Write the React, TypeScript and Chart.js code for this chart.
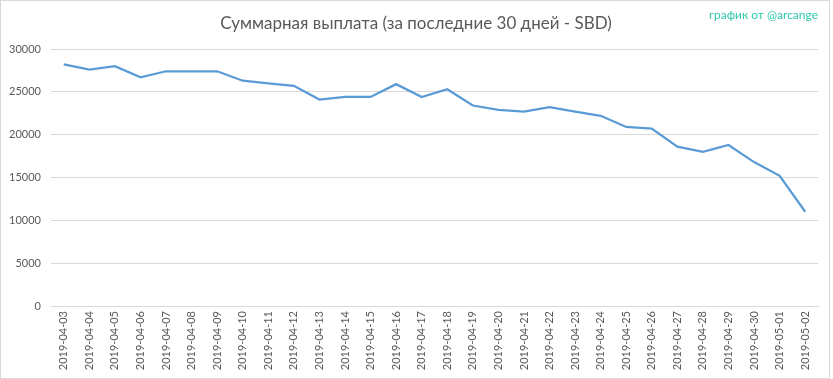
import React, { useEffect, useRef } from "react";
import { Chart, registerables } from "chart.js";

Chart.register(...registerables);

const TITLE = "Суммарная выплата (за последние 30 дней - SBD)";
const CREDIT = "график от @arcange";

const DATES = [
  "2019-04-03", "2019-04-04", "2019-04-05", "2019-04-06", "2019-04-07",
  "2019-04-08", "2019-04-09", "2019-04-10", "2019-04-11", "2019-04-12",
  "2019-04-13", "2019-04-14", "2019-04-15", "2019-04-16", "2019-04-17",
  "2019-04-18", "2019-04-19", "2019-04-20", "2019-04-21", "2019-04-22",
  "2019-04-23", "2019-04-24", "2019-04-25", "2019-04-26", "2019-04-27",
  "2019-04-28", "2019-04-29", "2019-04-30", "2019-05-01", "2019-05-02",
];

const PAYOUT = [
  28200, 27600, 28000, 26700, 27400,
  27400, 27400, 26300, 26000, 25700,
  24100, 24400, 24400, 25900, 24400,
  25300, 23400, 22900, 22700, 23200,
  22700, 22200, 20900, 20700, 18600,
  18000, 18800, 16800, 15200, 11000,
];

const Y_MIN = 0;
const Y_MAX = 30000;
const Y_STEP = 5000;

const FONT = "Lato, 'Open Sans', sans-serif";

const textPlugin = {
  id: "textPlugin",
  afterDraw(chart: any) {
    const ctx = chart.ctx;
    ctx.save();
    ctx.fillStyle = "#595959";
    ctx.font = `17px ${FONT}`;
    ctx.textAlign = "center";
    ctx.textBaseline = "middle";
    ctx.fillText(TITLE, 416, 24);
    ctx.fillStyle = "#2cc9a8";
    ctx.font = `12px ${FONT}`;
    ctx.textAlign = "right";
    ctx.fillText(CREDIT, 818, 15);
    ctx.restore();
  },
};

export default function App() {
  const ref = useRef<HTMLCanvasElement | null>(null);

  useEffect(() => {
    document.body.style.margin = "0";
    const canvas = ref.current!;
    const chart = new Chart(canvas, {
      type: "line",
      data: {
        labels: DATES,
        datasets: [
          {
            data: PAYOUT,
            borderColor: "#5b9bd5",
            borderWidth: 2.25,
            pointRadius: 0,
            tension: 0,
            fill: false,
          },
        ],
      },
      options: {
        animation: false,
        responsive: false,
        layout: { padding: { top: 49, right: 15, left: 0, bottom: 0 } },
        plugins: {
          legend: { display: false },
          title: { display: false },
          tooltip: { enabled: false },
        },
        scales: {
          x: {
            offset: true,
            grid: { display: false, drawTicks: false },
            border: { display: true, color: "#d9d9d9", width: 1 },
            ticks: {
              autoSkip: false,
              minRotation: 90,
              maxRotation: 90,
              padding: 5,
              color: "#595959",
              font: { family: FONT, size: 11 },
            },
            afterFit(scale: any) {
              scale.height = 73;
            },
          },
          y: {
            min: Y_MIN,
            max: Y_MAX,
            grid: { color: "#d9d9d9", drawTicks: false },
            border: { display: false },
            ticks: {
              stepSize: Y_STEP,
              padding: 10,
              color: "#595959",
              font: { family: FONT, size: 11 },
              callback: (v: any) => String(v),
            },
            afterFit(scale: any) {
              scale.width = 51;
            },
          },
        },
      },
      plugins: [textPlugin],
    });
    return () => chart.destroy();
  }, []);

  return (
    <div style={{ position: "relative", width: 833, height: 379, background: "#fff" }}>
      <div
        style={{
          position: "absolute",
          left: 0,
          top: 0,
          width: 830,
          height: 379,
          boxSizing: "border-box",
          border: "1px solid #d9d9d9",
        }}
      />
      <canvas
        ref={ref}
        width={833}
        height={379}
        style={{ position: "absolute", left: 0, top: 0, width: 833, height: 379 }}
      />
    </div>
  );
}
